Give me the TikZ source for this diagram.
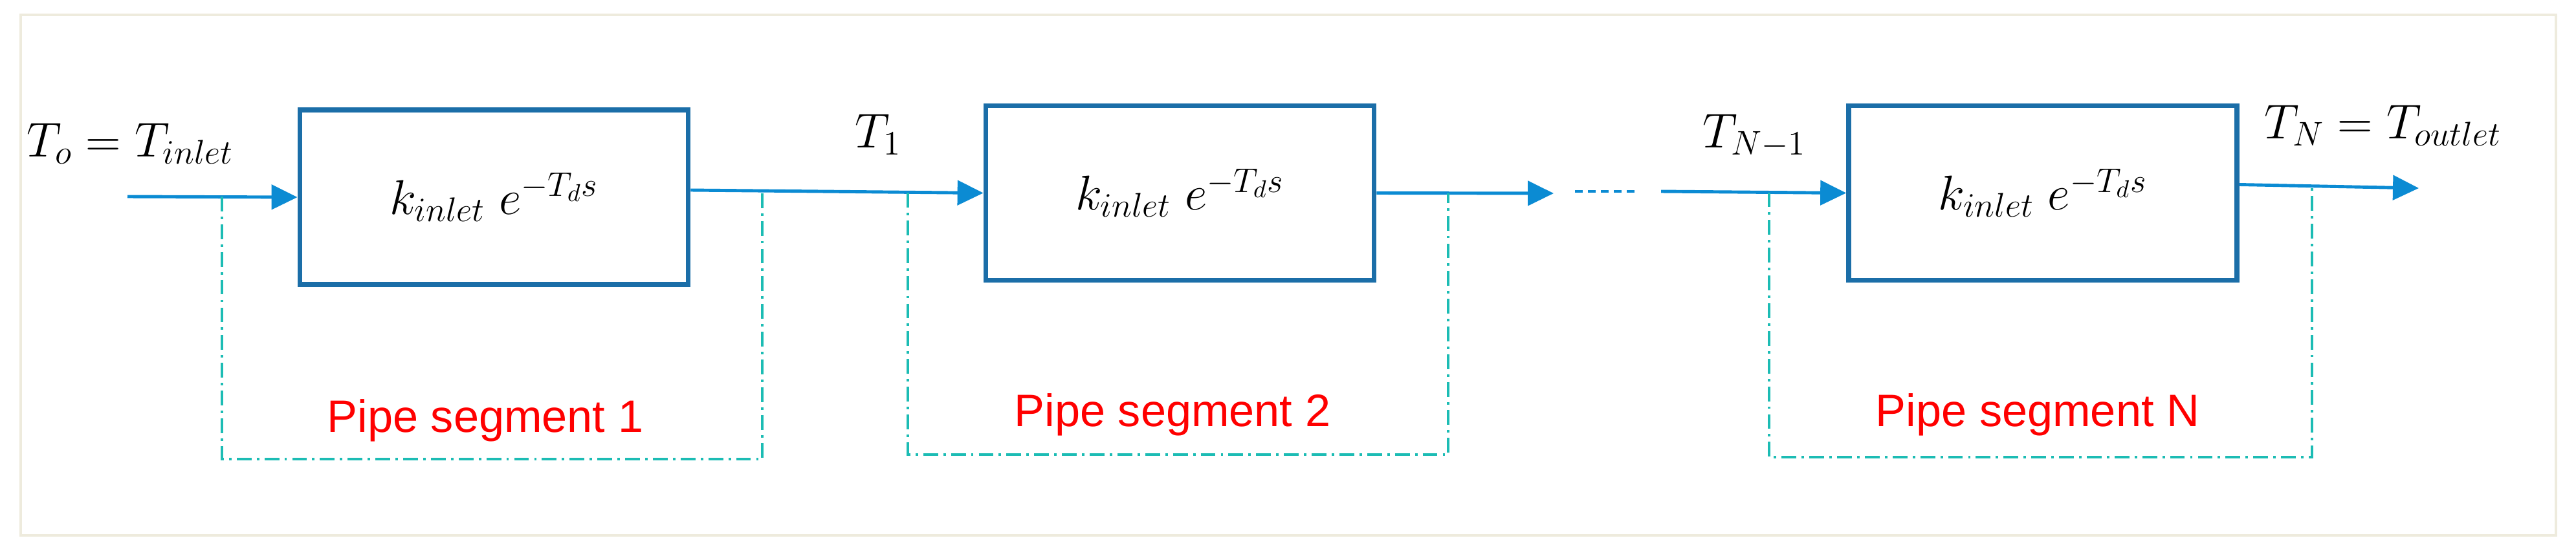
\RequirePackage{fix-cm}
\documentclass[tikz,border=0pt]{standalone}
\usepackage{fontspec}
\setsansfont{Liberation Sans}
\usetikzlibrary{arrows.meta}

\definecolor{sigblue}{HTML}{0B8BD3}
\definecolor{boxblue}{HTML}{1B6EA8}
\definecolor{segteal}{HTML}{1CBCB4}
\definecolor{framegray}{HTML}{EEEBDD}

\begin{document}
\begin{tikzpicture}[
    block/.style={draw=boxblue, line width=2.2pt, minimum width=6cm, minimum height=2.7cm, inner sep=0pt, font=\fontsize{21.5}{26}\selectfont},
    sig/.style={draw=sigblue, line width=1.4pt, -{Triangle[length=0.4cm,width=0.38cm]}},
    seg/.style={draw=segteal, line width=1pt, dash pattern=on 6.5pt off 2.3pt on 1.1pt off 2.3pt},
    seglabel/.style={text=red, font=\sffamily\fontsize{20}{24}\selectfont, anchor=base},
    siglabel/.style={font=\fontsize{21.5}{26}\selectfont, anchor=base west, inner sep=0pt}
  ]
      \useasboundingbox (0,0) rectangle (39.81,8.62);
      \draw[framegray, line width=0.9pt] (0.32,0.34) rectangle (39.5,8.39);

      \node[block] (g1) at (7.635,5.57) {$k_{inlet}\; e^{-T_d s}$};
      \node[block] (g2) at (18.235,5.635) {$k_{inlet}\; e^{-T_d s}$};
      \node[block] (gN) at (31.57,5.635) {$k_{inlet}\; e^{-T_d s}$};

      \coordinate (in) at (1.97,5.58);
      \coordinate (d1) at (24.01,5.63);
      \coordinate (d2) at (24.34,5.66);
      \coordinate (d3) at (25.27,5.66);
      \coordinate (d4) at (25.67,5.66);
      \coordinate (out) at (37.38,5.71);

      \draw[sig] (in) -- (g1.west);
      \draw[sig] ([yshift=1.1mm]g1.east) -- (g2.west);
      \draw[sig] (g2.east) -- (d1);
      \draw[sigblue, line width=1.4pt, dash pattern=on 3.4pt off 2.3pt] (d2) -- (d3);
      \draw[sig] (d4) -- (gN.west);
      \draw[sig] ([yshift=1.3mm]gN.east) -- (out);

      %Segments
      \draw[seg] (3.43,5.58) -- (3.43,1.52) -- (11.78,1.52) -- (11.78,5.67);
      \draw[seg] (14.03,5.64) -- (14.03,1.59) -- (22.38,1.59) -- (22.38,5.63);
      \draw[seg] (27.34,5.645) -- (27.34,1.55) -- (35.73,1.55) -- (35.73,5.74);

      \node[seglabel] (s1) at (7.5,1.94) {Pipe segment 1};
      \node[seglabel] (s2) at (18.12,2.03) {Pipe segment 2};
      \node[seglabel] (sN) at (31.49,2.03) {Pipe segment N};

      \node[siglabel] (t0) at (0.41,6.20) {$T_o = T_{inlet}$};
      \node[siglabel] (t1) at (13.21,6.34) {$T_1$};
      \node[siglabel] (tn1) at (26.31,6.34) {$T_{N-1}$};
      \node[siglabel] (tN) at (34.99,6.48) {$T_N = T_{outlet}$};

    \end{tikzpicture}
\end{document}
